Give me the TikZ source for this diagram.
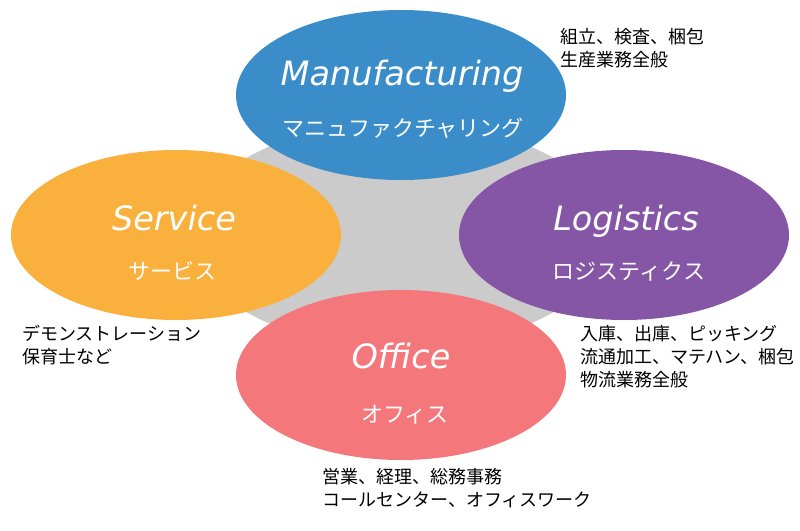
\documentclass[tikz,border=0pt]{standalone}
\usepackage{fontspec}
\setmainfont{Noto Sans CJK JP}
\newfontfamily\titlefont{DejaVu Sans}
\usetikzlibrary{shapes.geometric}
\definecolor{mfgblue}{HTML}{3A8DC9}
\definecolor{srvorange}{HTML}{FAB03C}
\definecolor{logpurple}{HTML}{8556A6}
\definecolor{offpink}{HTML}{F4777B}
\definecolor{hubgray}{HTML}{CBCBCB}

\begin{document}
\begin{tikzpicture}[x=1pt,y=-1pt,
        field/.style={
        ellipse, draw=none,
        inner sep=0pt, minimum width=330pt, minimum height=170pt},
        title/.style={text=white, inner sep=0pt, anchor=base,
        font=\titlefont\itshape\fontsize{33.5}{33.5}\selectfont},
        kana/.style={text=white, inner sep=0pt, anchor=base,
        font=\fontsize{22}{22}\selectfont},
        note/.style={align=left, inner sep=0pt, anchor=north west,
        font=\fontsize{18}{23}\selectfont},
        ]
        \useasboundingbox (0,0) rectangle (800,530);

        \node (hub) [ellipse, fill=hubgray, inner sep=0pt,
            minimum width=420pt, minimum height=226pt] at (400,235){};

        \node (mfg) [field, fill=mfgblue]  at (401,95){};
        \node (srv) [field, fill=srvorange]  at (176,235){};
        \node (log) [field, fill=logpurple]  at (624,235){};
        \node (off) [field, fill=offpink]  at (401,375){};

        \node (mfgT) [title] at (402,85){Manufacturing};
        \node (mfgK) [kana] at (403,136){マニュファクチャリング};
        \node (srvT) [title] at (174,230){Service};
        \node (srvK) [kana] at (172,279){サービス};
        \node (logT) [title] at (626,230){Logistics};
        \node (logK) [kana] at (629,279){ロジスティクス};
        \node (offT) [title] at (401,368){Office};
        \node (offK) [kana] at (405,422){オフィス};

        \node (mfgN) [note] at (560,28){組立、検査、梱包\\生産業務全般};
        \node (srvN) [note] at (22,325){デモンストレーション\\保育士など};
        \node (logN) [note] at (580,325){入庫、出庫、ピッキング\\流通加工、マテハン、梱包\\物流業務全般};
        \node (offN) [note] at (322,468){営業、経理、総務事務\\コールセンター、オフィスワーク};
    \end{tikzpicture}
\end{document}
